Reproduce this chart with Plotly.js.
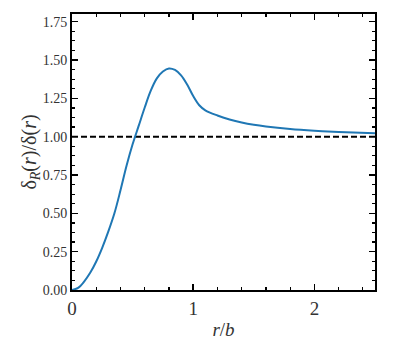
<!DOCTYPE html>
<html>
<head>
<meta charset="utf-8">
<script src="https://cdn.plot.ly/plotly-3.0.1.min.js"></script>
<style>
  html, body { margin: 0; padding: 0; background: #fff; }
  #chart { width: 399px; height: 342px; }
</style>
</head>
<body>
<div id="chart"></div>
<script>
// r/b values and the ratio delta_R(r)/delta(r)
const rValues = [0, 0.05, 0.1, 0.15, 0.2, 0.25, 0.3, 0.35, 0.4, 0.45, 0.5, 0.55, 0.6, 0.65,
  0.7, 0.75, 0.8, 0.85, 0.9, 0.95, 1.0, 1.05, 1.1, 1.2, 1.3, 1.4, 1.5, 1.6, 1.8, 2.0, 2.2, 2.5];
const ratioValues = [0, 0.014, 0.055, 0.112, 0.186, 0.277, 0.382, 0.50, 0.65, 0.81, 0.95, 1.07, 1.19, 1.30,
  1.38, 1.425, 1.445, 1.435, 1.40, 1.34, 1.265, 1.205, 1.172, 1.138, 1.112, 1.092, 1.077, 1.066, 1.05, 1.039, 1.031, 1.022];

// reference level
const refLevel = 1.0;
const xRange = [0, 2.5];
const yRange = [0, 1.8];
const yTickVals = [0, 0.25, 0.5, 0.75, 1.0, 1.25, 1.5, 1.75];
const yTickText = ['0.00', '0.25', '0.50', '0.75', '1.00', '1.25', '1.50', '1.75'];
const xTickVals = [0, 1, 2];
const xTickText = ['0', '1', '2'];

const serif = 'Liberation Serif, serif';

const curve = {
  x: rValues,
  y: ratioValues,
  type: 'scatter',
  mode: 'lines',
  line: {color: '#1f77b4', width: 2, shape: 'spline', smoothing: 1},
  hoverinfo: 'skip'
};

const refLine = {
  x: xRange,
  y: [refLevel, refLevel],
  type: 'scatter',
  mode: 'lines',
  line: {color: '#000', width: 2, dash: '6px,3px'},
  hoverinfo: 'skip'
};

const axisCommon = {
  showline: true,
  linecolor: '#000',
  linewidth: 2,
  mirror: 'ticks',
  ticks: 'inside',
  ticklen: 6,
  tickwidth: 1.5,
  tickcolor: '#000',
  showgrid: false,
  zeroline: false,
  fixedrange: true
};

const layout = {
  width: 399,
  height: 342,
  margin: {l: 72, r: 24, t: 14, b: 52},
  paper_bgcolor: '#fff',
  plot_bgcolor: '#fff',
  showlegend: false,
  font: {family: serif, color: '#333'},
  xaxis: Object.assign({}, axisCommon, {
    range: xRange,
    tickmode: 'array',
    tickvals: xTickVals,
    ticktext: xTickText,
    tickfont: {size: 19, family: serif, color: '#333'},
    minor: {dtick: 0.2, tick0: 0, ticks: 'inside', ticklen: 3, tickwidth: 1.2, tickcolor: '#000'},
    title: {text: '<i>r</i>/<i>b</i>', font: {size: 19, family: serif, color: '#333'}, standoff: 5}
  }),
  yaxis: Object.assign({}, axisCommon, {
    range: yRange,
    tickmode: 'array',
    tickvals: yTickVals,
    ticktext: yTickText,
    tickfont: {size: 14, family: serif, color: '#333'},
    minor: {dtick: 0.0625, tick0: 0, ticks: 'inside', ticklen: 3, tickwidth: 1.2, tickcolor: '#000'},
    title: {text: 'δ<sub><i>R</i></sub>(<i>r</i>)/δ(<i>r</i>)', font: {size: 20, family: serif, color: '#333'}, standoff: 1}
  })
};

Plotly.newPlot('chart', [refLine, curve], layout, {staticPlot: true, displayModeBar: false});
</script>
</body>
</html>
